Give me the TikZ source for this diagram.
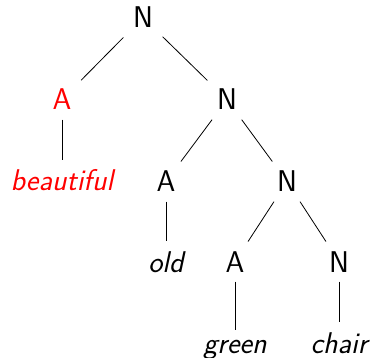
\documentclass[tikz,border=0pt]{standalone}
\usepackage{xcolor}
\definecolor{hl}{RGB}{255,0,0}
\begin{document}
\begin{tikzpicture}[x=1pt,y=-1pt,
  lab/.style={anchor=base,inner sep=9.5pt,font=\fontsize{30}{36}\selectfont\sffamily},
  word/.style={lab,font=\fontsize{30}{36}\selectfont\sffamily\itshape},
  hlt/.style={text=hl},
  br/.style={line width=0.8pt,draw=black}]
\useasboundingbox (0,0) rectangle (372,358);
\node[lab] (r) at (143,28) {N};
\node[lab,hlt] (a1) at (62,110) {A};
\node[lab] (n1) at (227,110) {N};
\node[word,hlt] (w1) at (62,191) {beautiful};
\node[lab] (a2) at (166,192) {A};
\node[lab] (n2) at (287,192) {N};
\node[word] (w2) at (166,272) {old};
\node[lab] (a3) at (235,272) {A};
\node[lab] (n3) at (339,272) {N};
\node[word] (w3) at (235,353) {green};
\node[word] (w4) at (339,353) {chair};
\draw[br] (r) -- (a1);
\draw[br] (r) -- (n1);
\draw[br] (a1) -- (w1);
\draw[br] (n1) -- (a2);
\draw[br] (n1) -- (n2);
\draw[br] (a2) -- (w2);
\draw[br] (n2) -- (a3);
\draw[br] (n2) -- (n3);
\draw[br] (a3) -- (w3);
\draw[br] (n3) -- (w4);
\end{tikzpicture}
\end{document}
